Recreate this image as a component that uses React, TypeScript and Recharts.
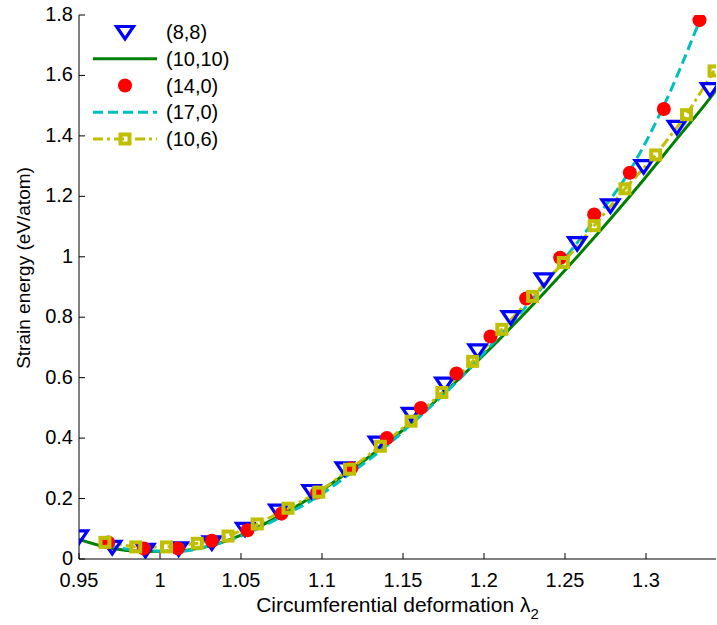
import React from 'react';
import { ComposedChart, Line, Scatter, XAxis, YAxis, Legend, Label } from 'recharts';

// ---------- data ----------
const xTicks = [0.95, 1, 1.05, 1.1, 1.15, 1.2, 1.25, 1.3];
const yTicks = [0, 0.2, 0.4, 0.6, 0.8, 1, 1.2, 1.4, 1.6, 1.8];

const SERIES_NAMES = ['(8,8)', '(10,10)', '(14,0)', '(17,0)', '(10,6)'];

// (8,8) markers only
const x88 = [0.95, 0.9705, 0.991, 1.0115, 1.032, 1.0525, 1.073, 1.0935, 1.114, 1.1345, 1.155, 1.1755, 1.196, 1.2165, 1.237, 1.2575, 1.278, 1.2985, 1.319, 1.3395];
const y88 = [0.075, 0.04, 0.03, 0.035, 0.055, 0.1, 0.16, 0.225, 0.3, 0.385, 0.48, 0.58, 0.69, 0.8, 0.925, 1.045, 1.17, 1.3, 1.43, 1.555];

// (10,10) solid line
const x1010 = [0.95, 0.9705, 0.991, 1.0115, 1.032, 1.0525, 1.073, 1.0935, 1.114, 1.1345, 1.155, 1.1755, 1.196, 1.2165, 1.237, 1.2575, 1.278, 1.2985, 1.319, 1.3395, 1.343];
const y1010 = [0.065, 0.035, 0.025, 0.027, 0.045, 0.085, 0.14, 0.205, 0.28, 0.36, 0.45, 0.55, 0.655, 0.765, 0.88, 1.0, 1.125, 1.255, 1.39, 1.525, 1.55];

// (14,0) markers only
const x140 = [0.968, 0.99, 1.011, 1.032, 1.054, 1.075, 1.097, 1.118, 1.14, 1.161, 1.183, 1.204, 1.226, 1.247, 1.268, 1.29, 1.311, 1.333];
const y140 = [0.055, 0.035, 0.035, 0.06, 0.095, 0.15, 0.22, 0.3, 0.4, 0.5, 0.614, 0.736, 0.862, 0.997, 1.14, 1.278, 1.489, 1.783];

// (17,0) dashed line
const x170 = [0.968, 0.99, 1.011, 1.032, 1.054, 1.075, 1.097, 1.118, 1.14, 1.161, 1.183, 1.204, 1.226, 1.247, 1.268, 1.29, 1.311, 1.333];
const y170 = [0.045, 0.027, 0.025, 0.045, 0.085, 0.14, 0.205, 0.285, 0.375, 0.475, 0.585, 0.705, 0.835, 0.975, 1.12, 1.285, 1.5, 1.78];

// (10,6) dash-dot line with square markers
const x106 = [0.966, 0.985, 1.004, 1.023, 1.042, 1.06, 1.079, 1.098, 1.117, 1.136, 1.155, 1.174, 1.193, 1.211, 1.23, 1.249, 1.268, 1.287, 1.306, 1.325, 1.342];
const y106 = [0.055, 0.04, 0.04, 0.052, 0.076, 0.116, 0.168, 0.221, 0.297, 0.373, 0.456, 0.551, 0.654, 0.76, 0.869, 0.981, 1.103, 1.225, 1.337, 1.47, 1.615];

const toPoints = (xs: number[], ys: number[]) => xs.map((x, i) => ({ x, y: ys[i] }));

// ---------- styles ----------
const BLUE = '#0000FF';
const GREEN = '#008000';
const RED = '#FF0000';
const CYAN = '#00BFBF';
const YELLOW = '#BFBF00';
const FONT = '"Liberation Sans", Arial, Helvetica, sans-serif';
const TICK_LEN = 6;
const CYAN_DASH = '10 5';
const YELLOW_DASH = '10 4 3 4';

const TriangleDown = (props: any) => {
  const { cx, cy } = props;
  if (cx == null || cy == null) return null;
  return (
    <path
      d={`M${cx - 8.5},${cy - 5.5}L${cx + 8.5},${cy - 5.5}L${cx},${cy + 7}Z`}
      fill="none"
      stroke={BLUE}
      strokeWidth={3.2}
    />
  );
};

const RedCircle = (props: any) => {
  const { cx, cy } = props;
  if (cx == null || cy == null) return null;
  return <circle cx={cx} cy={cy} r={7} fill={RED} />;
};

const YellowSquare = (props: any) => {
  const { cx, cy, index } = props;
  if (cx == null || cy == null) return null;
  return <rect key={`sq-${index}`} x={cx - 4.5} y={cy - 4.5} width={9} height={9} fill="none" stroke={YELLOW} strokeWidth={4} />;
};

const BottomTick = (props: any) => {
  const { x, y, payload } = props;
  return (
    <g>
      <line x1={x} x2={x} y1={y} y2={y - TICK_LEN} stroke="#000" strokeWidth={1} />
      <text x={x} y={y + 28} textAnchor="middle" fontSize={20} fontFamily={FONT} fill="#000">
        {String(payload.value)}
      </text>
    </g>
  );
};

const LeftTick = (props: any) => {
  const { x, y, payload } = props;
  return (
    <g>
      <line x1={x} x2={x + TICK_LEN} y1={y} y2={y} stroke="#000" strokeWidth={1} />
      <text x={x - 6} y={y + 6} textAnchor="end" fontSize={20} fontFamily={FONT} fill="#000">
        {String(payload.value)}
      </text>
    </g>
  );
};

const TopTick = (props: any) => {
  const { x, y } = props;
  return <line x1={x} x2={x} y1={y} y2={y + TICK_LEN} stroke="#000" strokeWidth={1} />;
};

const RightTick = (props: any) => {
  const { x, y } = props;
  return <line x1={x} x2={x - TICK_LEN} y1={y} y2={y} stroke="#000" strokeWidth={1} />;
};

const XTitle = (props: any) => {
  const vb = props.viewBox || { x: 79, width: 637 };
  const cx = vb.x + vb.width / 2;
  return (
    <text x={cx} y={612} textAnchor="middle" fontSize={21} fontFamily={FONT} fill="#000">
      Circumferential deformation λ
      <tspan dy={7} fontSize={15}>2</tspan>
    </text>
  );
};

const YTitle = () => (
  <text
    transform="rotate(-90)"
    x={-268}
    y={30}
    textAnchor="middle"
    fontSize={19}
    fontFamily={FONT}
    fill="#000"
  >
    Strain energy (eV/atom)
  </text>
);

const LegendContent = (props: any) => {
  const payload: any[] = props.payload || [];
  return (
    <svg width={240} height={160} style={{ display: 'block', overflow: 'visible' }}>
      {SERIES_NAMES.map((name, i) => {
        const entry = payload.find((p) => p && p.value === name);
        const label = entry ? entry.value : name;
        const cy = 32 + i * 26.75;
        let glyph: React.ReactNode = null;
        if (name === '(8,8)') glyph = <TriangleDown cx={125} cy={cy} />;
        if (name === '(10,10)') glyph = <line x1={93} x2={157} y1={cy} y2={cy} stroke={GREEN} strokeWidth={3} />;
        if (name === '(14,0)') glyph = <RedCircle cx={125} cy={cy} />;
        if (name === '(17,0)')
          glyph = <line x1={93} x2={157} y1={cy} y2={cy} stroke={CYAN} strokeWidth={3} strokeDasharray={CYAN_DASH} />;
        if (name === '(10,6)')
          glyph = (
            <g>
              <line x1={93} x2={157} y1={cy} y2={cy} stroke={YELLOW} strokeWidth={3} strokeDasharray={YELLOW_DASH} />
              <YellowSquare cx={125} cy={cy} />
            </g>
          );
        return (
          <g key={name}>
            {glyph}
            <text x={166} y={cy + 7} fontSize={20} fontFamily={FONT} fill="#000">
              {label}
            </text>
          </g>
        );
      })}
    </svg>
  );
};

export default function App() {
  return (
    <div style={{ position: 'absolute', left: 0, top: 0, width: 717, height: 625, background: '#fff', fontFamily: FONT }}>
      <ComposedChart width={717} height={625} margin={{ top: 15, right: 1, bottom: 0, left: 0 }}>
        <XAxis
          type="number"
          dataKey="x"
          domain={[0.95, 1.3432]}
          allowDataOverflow
          ticks={xTicks}
          interval={0}
          height={66}
          tickSize={0}
          tickMargin={0}
          tick={BottomTick}
          axisLine={{ stroke: '#000', strokeWidth: 1 }}
          tickLine={false}
        >
          <Label content={XTitle} />
        </XAxis>
        <XAxis
          xAxisId="top"
          orientation="top"
          type="number"
          dataKey="x"
          domain={[0.95, 1.3432]}
          allowDataOverflow
          ticks={xTicks}
          interval={0}
          height={0}
          tickSize={0}
          tickMargin={0}
          tick={TopTick}
          axisLine={{ stroke: '#000', strokeWidth: 1 }}
          tickLine={false}
        />
        <YAxis
          type="number"
          dataKey="y"
          domain={[0, 1.8]}
          allowDataOverflow
          ticks={yTicks}
          interval={0}
          width={79}
          tickSize={0}
          tickMargin={0}
          tick={LeftTick}
          axisLine={{ stroke: '#000', strokeWidth: 1 }}
          tickLine={false}
        >
          <Label content={YTitle} />
        </YAxis>
        <YAxis
          yAxisId="right"
          orientation="right"
          type="number"
          dataKey="y"
          domain={[0, 1.8]}
          allowDataOverflow
          ticks={yTicks}
          interval={0}
          width={0}
          tickSize={0}
          tickMargin={0}
          tick={RightTick}
          axisLine={{ stroke: '#000', strokeWidth: 1 }}
          tickLine={false}
        />
        <Legend
          layout="vertical"
          align="center"
          verticalAlign="middle"
          content={LegendContent}
          wrapperStyle={{ position: 'absolute', left: 0, top: 0, width: 240, height: 160, margin: 0, padding: 0 }}
        />
        <Scatter
          name={SERIES_NAMES[0]}
          data={toPoints(x88, y88)}
          dataKey="y"
          fill={BLUE}
          shape={TriangleDown}
          isAnimationActive={false}
        />
        <Line
          name={SERIES_NAMES[1]}
          data={toPoints(x1010, y1010)}
          dataKey="y"
          type="monotone"
          stroke={GREEN}
          strokeWidth={3}
          dot={false}
          activeDot={false}
          isAnimationActive={false}
        />
        <Scatter
          name={SERIES_NAMES[2]}
          data={toPoints(x140, y140)}
          dataKey="y"
          fill={RED}
          shape={RedCircle}
          isAnimationActive={false}
        />
        <Line
          name={SERIES_NAMES[3]}
          data={toPoints(x170, y170)}
          dataKey="y"
          type="monotone"
          stroke={CYAN}
          strokeWidth={3}
          strokeDasharray={CYAN_DASH}
          dot={false}
          activeDot={false}
          isAnimationActive={false}
        />
        <Line
          name={SERIES_NAMES[4]}
          data={toPoints(x106, y106)}
          dataKey="y"
          type="linear"
          stroke={YELLOW}
          strokeWidth={3}
          strokeDasharray={YELLOW_DASH}
          dot={YellowSquare}
          activeDot={false}
          isAnimationActive={false}
        />
      </ComposedChart>
    </div>
  );
}
